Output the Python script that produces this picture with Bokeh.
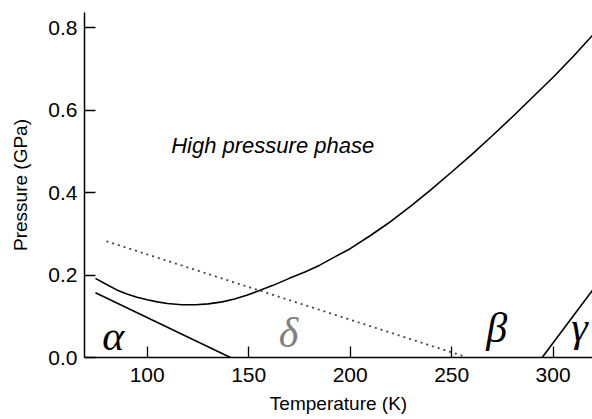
from bokeh.plotting import figure
from bokeh.models import Range1d, FixedTicker, Label
from bokeh.embed import file_html
from bokeh.resources import INLINE

# --- data ---
# upper boundary (high pressure phase)
hp_T = [74.5, 80, 85, 90, 95, 100, 105, 110, 117, 124, 130, 137, 143, 149, 155, 162, 170,
        178, 185, 192, 200, 210, 220, 230, 240, 250, 260, 270, 280, 290, 300, 310, 319.5]
hp_P = [0.192, 0.177, 0.164, 0.154, 0.146, 0.140, 0.135, 0.131, 0.128, 0.128, 0.130, 0.135,
        0.142, 0.151, 0.162, 0.175, 0.192, 0.208, 0.224, 0.243, 0.264, 0.296, 0.330, 0.368,
        0.408, 0.450, 0.493, 0.538, 0.584, 0.632, 0.680, 0.731, 0.782]
# alpha boundary
a_T = [74.5, 141.0]
a_P = [0.157, 0.0]
# dotted (delta) boundary
d_T = [79.9, 256.0]
d_P = [0.282, 0.003]
# gamma boundary
g_T = [294.6, 319.4]
g_P = [0.0, 0.163]

x_ticks = [100, 150, 200, 250, 300]
y_ticks = [0.0, 0.2, 0.4, 0.6, 0.8]

FONT = "Liberation Sans"
SERIF = "Liberation Serif"

p = figure(width=592, height=419, output_backend="svg", toolbar_location=None,
           x_range=Range1d(69.1, 319.4), y_range=Range1d(0, 0.837),
           min_border_left=84, min_border_right=0, min_border_top=12, min_border_bottom=62)
p.outline_line_color = None
p.grid.visible = False
p.background_fill_color = "white"
p.border_fill_color = "white"

for ax in (p.xaxis[0], p.yaxis[0]):
    ax.axis_line_width = 1.5
    ax.axis_line_color = "black"
    ax.major_tick_in = 11
    ax.major_tick_out = 0
    ax.major_tick_line_width = 1.3
    ax.major_tick_line_color = "black"
    ax.minor_tick_line_color = None
    ax.major_label_text_font = FONT
    ax.major_label_text_font_size = "21px"
    ax.major_label_text_color = "black"
    ax.axis_label_text_font = FONT
    ax.axis_label_text_font_size = "19px"
    ax.axis_label_text_font_style = "normal"
    ax.axis_label_text_color = "black"

p.xaxis.ticker = FixedTicker(ticks=x_ticks)
p.yaxis.ticker = FixedTicker(ticks=y_ticks)
p.yaxis.major_label_overrides = {v: f"{v:.1f}" for v in y_ticks}
p.xaxis.axis_label = "Temperature (K)"
p.yaxis.axis_label = "Pressure (GPa)"
p.xaxis.major_label_standoff = 10
p.yaxis.major_label_standoff = 7
p.xaxis.axis_label_standoff = 8
p.yaxis.axis_label_standoff = 14

p.line(hp_T, hp_P, line_color="black", line_width=1.6)
p.line(a_T, a_P, line_color="black", line_width=1.6)
p.line(g_T, g_P, line_color="black", line_width=1.6)
p.line(d_T, d_P, line_color="#444444", line_width=1.8, line_dash="2 4")

p.add_layout(Label(x=111.8, y=0.515, text="High pressure phase", text_font=FONT,
                   text_font_size="22px", text_font_style="italic", text_color="black",
                   text_baseline="alphabetic"))
for t, x, y, c in [("α", 83.3, 0.052, "black"), ("δ", 169.6, 0.060, "#808080"),
                   ("β", 272.2, 0.071, "black"), ("γ", 313.0, 0.073, "black")]:
    p.add_layout(Label(x=x, y=y, text=t, text_font=SERIF, text_font_size="42px",
                       text_font_style="italic", text_color=c, text_align="center",
                       text_baseline="alphabetic"))

open("out.html", "w").write(file_html(p, INLINE))
